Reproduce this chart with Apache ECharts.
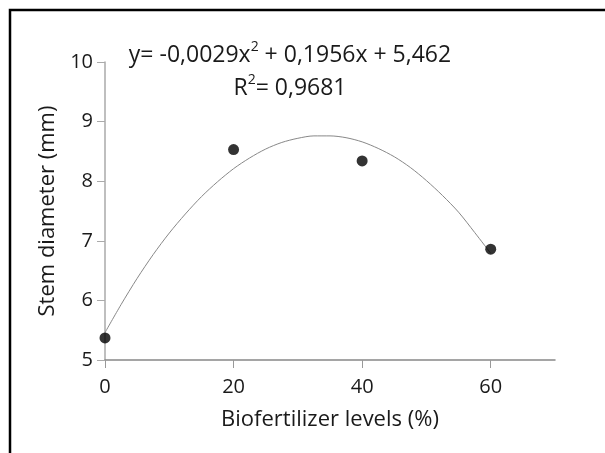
<!DOCTYPE html>
<html>
<head>
<meta charset="utf-8">
<script src="https://cdn.jsdelivr.net/npm/echarts@6/dist/echarts.min.js"></script>
<style>
  html, body { margin: 0; padding: 0; background: #fff; }
  #main { width: 605px; height: 453px; }
</style>
</head>
<body>
<div id="main"></div>
<script>
// observed points (biofertilizer level %, stem diameter mm)
var levels = [0, 20, 40, 60];
var diameter = [5.37, 8.53, 8.34, 6.86];

// fitted curve
var curveX = [0, 2.5, 5, 7.5, 10, 12.5, 15, 17.5, 20, 22.5, 25, 27.5, 30,
              32.5, 35, 37.5, 40, 42.5, 45, 47.5, 50, 52.5, 55, 57.5, 60];
var curveY = [5.46, 5.93, 6.37, 6.77, 7.13, 7.45, 7.74, 7.99, 8.21, 8.39, 8.54, 8.65, 8.72,
              8.76, 8.76, 8.73, 8.66, 8.55, 8.41, 8.23, 8.01, 7.76, 7.48, 7.14, 6.79];

var xTicks = [0, 20, 40, 60];

var font = "'Open Sans', sans-serif";

var myChart = echarts.init(document.getElementById("main"));

var points = levels.map(function (x, i) { return [x, diameter[i]]; });
var curve = curveX.map(function (x, i) { return [x, curveY[i]]; });

var option = {
  animation: false,
  backgroundColor: "#fff",
  grid: { left: 105, right: 50, top: 62, bottom: 93 },
  xAxis: {
    type: "value",
    min: 0,
    max: 70,
    interval: 10,
    name: "Biofertilizer levels (%)",
    nameLocation: "middle",
    nameGap: 49,
    nameTextStyle: { fontFamily: font, fontSize: 22, color: "#1a1a1a" },
    axisLine: { lineStyle: { color: "#888", width: 1.5 } },
    axisTick: { show: true, length: 8, customValues: xTicks, lineStyle: { color: "#999" } },
    axisLabel: { customValues: xTicks, margin: 17, fontFamily: font, fontSize: 20, color: "#1a1a1a" },
    splitLine: { show: false }
  },
  yAxis: {
    type: "value",
    min: 5,
    max: 10,
    interval: 1,
    name: "Stem diameter (mm)",
    nameLocation: "middle",
    nameGap: 43,
    nameTextStyle: { fontFamily: font, fontSize: 22, color: "#1a1a1a" },
    axisLine: { show: true, lineStyle: { color: "#aaa", width: 1.5 } },
    axisTick: { show: true, length: 8, lineStyle: { color: "#aaa" } },
    axisLabel: { margin: 12, fontFamily: font, fontSize: 20, color: "#1a1a1a" },
    splitLine: { show: false }
  },
  series: [
    {
      name: "fit",
      type: "line",
      data: curve,
      smooth: 0.3,
      showSymbol: false,
      lineStyle: { color: "#888", width: 1 },
      z: 2
    },
    {
      name: "observed",
      type: "scatter",
      data: points,
      symbolSize: 11,
      itemStyle: { color: "#000" },
      z: 3
    }
  ],
  graphic: [
    {
      type: "rect",
      shape: { x: 10, y: 10, width: 620, height: 470 },
      style: { fill: null, stroke: "#000", lineWidth: 2.5 },
      silent: true
    },
    {
      type: "text",
      x: 290,
      y: 55,
      style: {
        text: "y= -0,0029x{sup|2} + 0,1956x + 5,462",
        fontFamily: font,
        fontSize: 23,
        fill: "#1a1a1a",
        align: "center",
        verticalAlign: "middle",
        rich: {
          sup: { fontFamily: font, fontSize: 14, fill: "#1a1a1a", padding: [0, 0, 15, 0] }
        }
      }
    },
    {
      type: "text",
      x: 290,
      y: 88,
      style: {
        text: "R{sup|2}= 0,9681",
        fontFamily: font,
        fontSize: 23,
        fill: "#1a1a1a",
        align: "center",
        verticalAlign: "middle",
        rich: {
          sup: { fontFamily: font, fontSize: 14, fill: "#1a1a1a", padding: [0, 0, 15, 0] }
        }
      }
    }
  ]
};

myChart.setOption(option);
</script>
</body>
</html>
